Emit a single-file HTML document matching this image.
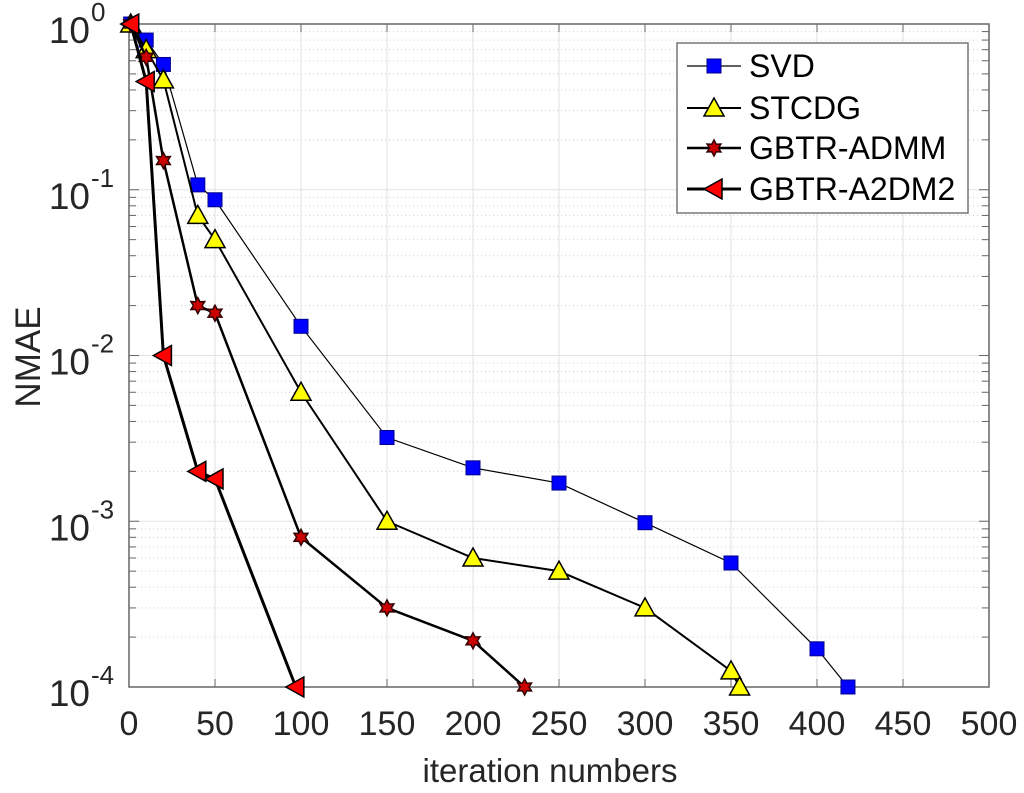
<!DOCTYPE html>
<html><head><meta charset="utf-8"><style>
html,body{margin:0;padding:0;background:#fff;}
svg{display:block;font-family:"Liberation Sans",Arial,sans-serif;}
</style></head><body>
<svg id="chart" width="1024" height="793" viewBox="0 0 1024 793">
<g id="grid"></g>
<g id="axes"></g>
<g id="series"></g>
<text x="550" y="782" font-size="33" text-anchor="middle" fill="#262626">iteration numbers</text>
<text transform="translate(40,357) rotate(-90)" font-size="35" text-anchor="middle" fill="#262626">NMAE</text>
<g id="legend"></g>
</svg>
<script>
const xTicks=[0,50,100,150,200,250,300,350,400,450,500];
const yExps=[0,-1,-2,-3,-4];
const seriesNames=["SVD","STCDG","GBTR-ADMM","GBTR-A2DM2"];
const svdX=[1,10,20,40,50,100,150,200,250,300,350,400,418];
const svdY=[1,0.8,0.57,0.107,0.087,0.015,0.0032,0.0021,0.0017,0.00098,0.00056,0.00017,0.0001];
const stcdgX=[1,10,20,40,50,100,150,200,250,300,350,355];
const stcdgY=[1,0.7,0.46,0.07,0.05,0.006,0.001,0.0006,0.0005,0.0003,0.000125,0.0001];
const admmX=[1,10,20,40,50,100,150,200,230];
const admmY=[1,0.63,0.15,0.02,0.018,0.0008,0.0003,0.00019,0.0001];
const a2dmX=[1,10,20,40,50,97];
const a2dmY=[1,0.45,0.01,0.002,0.0018,0.0001];

const NS="http://www.w3.org/2000/svg";
const L=129,R=989,T=24,B=687;
const xs=v=>L+(v/500)*(R-L);
const ys=v=>T+(-Math.log10(v))/4*(B-T);
function mk(tag,attrs,parent){const e=document.createElementNS(NS,tag);for(const k in attrs)e.setAttribute(k,attrs[k]);parent.appendChild(e);return e;}
const grid=document.getElementById('grid'),axes=document.getElementById('axes'),ser=document.getElementById('series'),leg=document.getElementById('legend');

for(let d=0;d<4;d++){for(let m=2;m<=9;m++){const y=ys(Math.pow(10,-d-1)*m);
 const g=mk('line',{x1:L,x2:R,y1:y,y2:y,stroke:'#d0d0d0','stroke-width':1,'stroke-dasharray':'1,3'},grid);
 
 
 mk('line',{x1:L,x2:L+7,y1:y,y2:y,stroke:'#666'},axes);mk('line',{x1:R,x2:R-7,y1:y,y2:y,stroke:'#666'},axes);}}
xTicks.forEach(t=>{const x=xs(t);
 const g=mk('line',{x1:x,x2:x,y1:T,y2:B,stroke:'#e2e2e2','stroke-width':1},grid);
 
 
 mk('line',{x1:x,x2:x,y1:B,y2:B-8,stroke:'#666'},axes);mk('line',{x1:x,x2:x,y1:T,y2:T+8,stroke:'#666'},axes);
 const tx=mk('text',{x:x,y:B+48,'font-size':34,'text-anchor':'middle',fill:'#262626'},axes);tx.textContent=t;
 
 });
yExps.forEach(e=>{const y=ys(Math.pow(10,e));
 const g=mk('line',{x1:L,x2:R,y1:y,y2:y,stroke:'#e2e2e2','stroke-width':1},grid);
 
 
 mk('line',{x1:L,x2:L+10,y1:y,y2:y,stroke:'#666'},axes);mk('line',{x1:R,x2:R-10,y1:y,y2:y,stroke:'#666'},axes);
 const tx=mk('text',{x:90,y:y+19,'font-size':37,'text-anchor':'end',fill:'#262626'},axes);
 tx.textContent='10';
 
 
 const sp=mk('text',{x:91,y:y-3,'font-size':26,'text-anchor':'start',fill:'#262626'},axes);sp.textContent=String(e);});
mk('rect',{x:L,y:T,width:R-L,height:B-T,fill:'none',stroke:'#666','stroke-width':1.5},axes);

function marker(type,x,y,p,s){
 let e;
 if(type==='sq'){e=mk('rect',{x:x-s,y:y-s,width:2*s,height:2*s,fill:'#0000ff',stroke:'#00008b','stroke-width':1},p);}
 else if(type==='tri'){e=mk('polygon',{points:`${x},${y-s} ${x-s},${y+s*0.8} ${x+s},${y+s*0.8}`,fill:'#ffff00',stroke:'#000','stroke-width':1.5},p);}
 else if(type==='star'){let pts=[];for(let i=0;i<12;i++){const r=i%2?s*0.55:s;const a=-Math.PI/2+i*Math.PI/6;pts.push((x+r*Math.cos(a)).toFixed(1)+','+(y+r*Math.sin(a)).toFixed(1));}
  e=mk('polygon',{points:pts.join(' '),fill:'#cc0000',stroke:'#330000','stroke-width':1.5},p);}
 else {e=mk('polygon',{points:`${x-s},${y} ${x+s*0.8},${y-s} ${x+s*0.8},${y+s}`,fill:'#ff0000',stroke:'#000','stroke-width':1.5},p);}
 return e;}
const defs=[[svdX,svdY,'sq',1.2,7],[stcdgX,stcdgY,'tri',2,10],[admmX,admmY,'star',2.5,8],[a2dmX,a2dmY,'ltri',3,10]];
defs.forEach((d,i)=>{const [X,Y,m,w,s]=d;
 const g=mk('g',{},ser);
 
 
 mk('polyline',{points:X.map((x,j)=>xs(x)+','+ys(Y[j])).join(' '),fill:'none',stroke:'#000','stroke-width':w},g);
 X.forEach((x,j)=>{const mm=marker(m,xs(x),ys(Y[j]),g,s);
  
  });});

mk('rect',{x:677,y:43,width:291,height:170,fill:'#fff',stroke:'#777','stroke-width':1.5},leg);
const ly=[66,108,148,189];
defs.forEach((d,i)=>{const g=mk('g',{},leg);
 
 
 mk('line',{x1:687,x2:741,y1:ly[i],y2:ly[i],stroke:'#000','stroke-width':d[3]},g);
 marker(d[2],714,ly[i],g,d[4]);
 const t=mk('text',{x:749,y:ly[i]+11,'font-size':32,fill:'#000'},g);t.textContent=seriesNames[i];});
</script>
</body></html>
